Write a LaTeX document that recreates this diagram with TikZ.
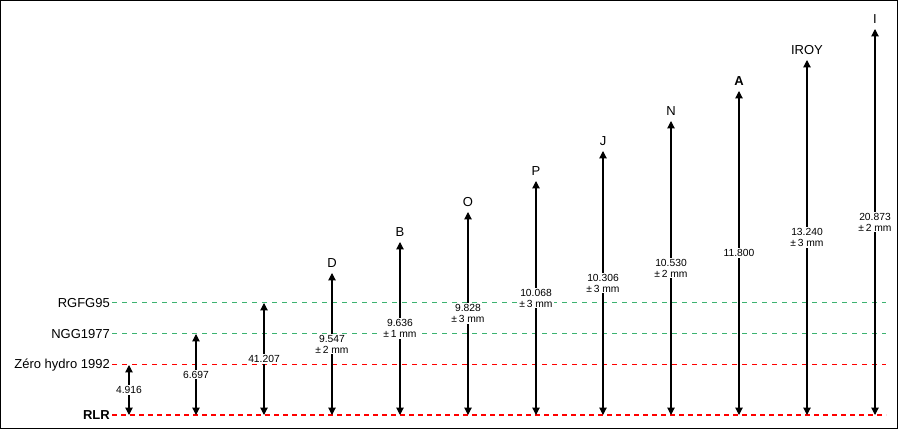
\documentclass[tikz,border=0pt]{standalone}
\usepackage{fontspec}
\setmainfont{Liberation Sans}
\usepackage{xcolor}
\usetikzlibrary{arrows.meta, positioning}

\definecolor{datumgreen}{RGB}{60,179,113}

\begin{document}
\begin{tikzpicture}[
    x=1pt, y=-1pt,
    lvl/.style={anchor=east, inner sep=2pt, font=\fontsize{13}{15}\selectfont},
    datum/.style={dash pattern=on 5pt off 5pt, line width=1pt},
    dim/.style={{Triangle[width=7.5pt,length=7.5pt]}-{Triangle[width=7.5pt,length=7.5pt]},
                line width=1.1pt},
    val/.style={midway, fill=white, inner sep=1pt, align=center,
                font=\fontsize{10.3}{11}\selectfont},
    bench/.style={inner sep=0pt, font=\fontsize{13}{15}\selectfont}
]

\useasboundingbox (0,0) rectangle (900,430);
\draw[line width=1pt] (0.5,0.5) rectangle (897.5,428.5);

% Reference levels
\coordinate (lend) at (886,0);
\node[lvl] (rgfg) at (112,303) {RGFG95};
\node[lvl] (ngg)  at (112,334) {NGG1977};
\node[lvl] (zero) at (112,365) {Zéro hydro 1992};
\node[lvl, font=\fontsize{13}{15}\selectfont\bfseries] (rlr) at (112,415) {RLR};

\draw[datum, datumgreen] (rgfg.east) -- (rgfg.east -| lend);
\draw[datum, datumgreen] (ngg.east)  -- (ngg.east -| lend);
\draw[datum, red]        (zero.east) -- (zero.east -| lend);
\draw[red, line width=2.5pt, dash pattern=on 5pt off 4pt] (rlr.east) -- (rlr.east -| lend);

% Feet on RLR
\coordinate (b1)  at (129,415);
\coordinate (b2)  at (196,415);
\coordinate (b3)  at (264,415);
\coordinate (b4)  at (332,415);
\coordinate (b5)  at (400,415);
\coordinate (b6)  at (468,415);
\coordinate (b7)  at (536,415);
\coordinate (b8)  at (603,415);
\coordinate (b9)  at (671,415);
\coordinate (b10) at (739,415);
\coordinate (b11) at (807,415);
\coordinate (b12) at (875,415);

% Tops
\coordinate (t1)  at (129,365);
\coordinate (t2)  at (196,334);
\coordinate (t3)  at (264,303);
\coordinate (t4)  at (332,273);
\coordinate (t5)  at (400,242);
\coordinate (t6)  at (468,212);
\coordinate (t7)  at (536,181);
\coordinate (t8)  at (603,151);
\coordinate (t9)  at (671,121);
\coordinate (t10) at (739,91);
\coordinate (t11) at (807,60);
\coordinate (t12) at (875,29);

% Benchmarks
\node[bench, above=5pt of t4]  (D)    {D};
\node[bench, above=5pt of t5]  (B)    {B};
\node[bench, above=5pt of t6]  (O)    {O};
\node[bench, above=5pt of t7]  (P)    {P};
\node[bench, above=5pt of t8]  (J)    {J};
\node[bench, above=5pt of t9]  (N)    {N};
\node[bench, above=5pt of t10, font=\fontsize{13}{15}\selectfont\bfseries] (A) {A};
\node[bench, above=5pt of t11] (IROY) {IROY};
\node[bench, above=5pt of t12] (I)    {I};

% Heights above RLR
\draw[dim] (b1)  -- (t1)  node[val]{4.916};
\draw[dim] (b2)  -- (t2)  node[val]{6.697};
\draw[dim] (b3)  -- (t3)  node[val]{41.207};
\draw[dim] (b4)  -- (t4)  node[val]{9.547\\±\,2 mm};
\draw[dim] (b5)  -- (t5)  node[val]{9.636\\±\,1 mm};
\draw[dim] (b6)  -- (t6)  node[val]{9.828\\±\,3 mm};
\draw[dim] (b7)  -- (t7)  node[val]{10.068\\±\,3 mm};
\draw[dim] (b8)  -- (t8)  node[val]{10.306\\±\,3 mm};
\draw[dim] (b9)  -- (t9)  node[val]{10.530\\±\,2 mm};
\draw[dim] (b10) -- (t10) node[val]{11.800};
\draw[dim] (b11) -- (t11) node[val]{13.240\\±\,3 mm};
\draw[dim] (b12) -- (t12) node[val]{20.873\\±\,2 mm};

\end{tikzpicture}
\end{document}
